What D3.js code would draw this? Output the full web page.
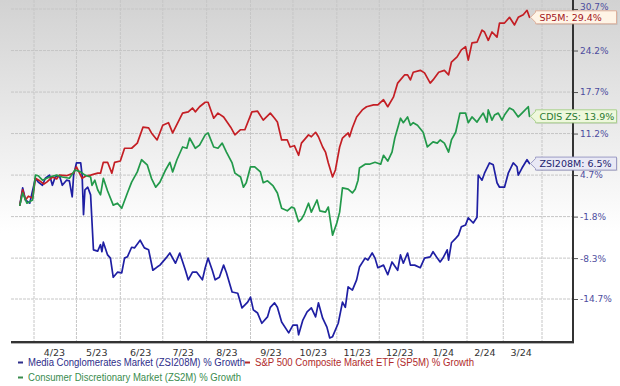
<!DOCTYPE html>
<html><head><meta charset="utf-8">
<script src="https://cdn.jsdelivr.net/npm/d3@7"></script>
<style>body{margin:0;background:#fff}svg{display:block}</style>
</head><body>
<svg id="chart" width="620" height="386"></svg>
<script>
// ---------- DATA ----------
const zsiDates = ["2023-03-22","2023-03-24","2023-03-26","2023-03-29","2023-04-02","2023-04-04","2023-04-07","2023-04-09","2023-04-12","2023-04-14","2023-04-16","2023-04-19","2023-04-21","2023-04-24","2023-04-26","2023-04-28","2023-04-29","2023-05-01","2023-05-04","2023-05-05","2023-05-06","2023-05-07","2023-05-09","2023-05-11","2023-05-13","2023-05-16","2023-05-18","2023-05-19","2023-05-20","2023-05-23","2023-05-25","2023-05-27","2023-05-30","2023-06-02","2023-06-04","2023-06-06","2023-06-09","2023-06-11","2023-06-15","2023-06-18","2023-06-21","2023-06-24","2023-06-27","2023-06-29","2023-07-04","2023-07-06","2023-07-10","2023-07-13","2023-07-17","2023-07-19","2023-07-22","2023-07-25","2023-07-29","2023-07-31","2023-08-02","2023-08-05","2023-08-07","2023-08-10","2023-08-13","2023-08-15","2023-08-19","2023-08-23","2023-08-26","2023-08-30","2023-09-01","2023-09-03","2023-09-06","2023-09-09","2023-09-13","2023-09-15","2023-09-18","2023-09-20","2023-09-23","2023-09-28","2023-10-01","2023-10-04","2023-10-05","2023-10-08","2023-10-11","2023-10-14","2023-10-17","2023-10-19","2023-10-22","2023-10-25","2023-10-27","2023-10-29","2023-11-02","2023-11-05","2023-11-07","2023-11-09","2023-11-12","2023-11-15","2023-11-17","2023-11-21","2023-11-23","2023-11-26","2023-11-28","2023-11-30","2023-12-04","2023-12-07","2023-12-10","2023-12-14","2023-12-16","2023-12-18","2023-12-21","2023-12-23","2023-12-26","2023-12-30","2024-01-02","2024-01-06","2024-01-08","2024-01-11","2024-01-13","2024-01-15","2024-01-18","2024-01-19","2024-01-21","2024-01-24","2024-01-26","2024-01-28","2024-01-31","2024-02-02","2024-02-06","2024-02-09","2024-02-10","2024-02-13","2024-02-15","2024-02-19","2024-02-22","2024-02-25","2024-02-27","2024-03-02","2024-03-05","2024-03-09","2024-03-12","2024-03-13","2024-03-16","2024-03-20","2024-03-22"];
const zsiValues = [0.0,2.7,0.8,0.3,4.2,3.6,3.1,4.2,4.7,3.1,4.4,4.6,3.1,3.9,3.8,1.3,4.7,6.6,6.6,4.7,-1.5,2.4,2.8,1.6,-7.0,-7.2,-6.2,-7.3,-5.8,-7.8,-8.3,-11.3,-10.5,-10.6,-8.3,-8.1,-6.6,-6.7,-5.5,-6.7,-7.0,-10.2,-9.7,-9.4,-8.1,-7.5,-9.1,-7.5,-10.2,-11.7,-10.5,-10.5,-11.7,-9.8,-8.3,-10.2,-11.7,-11.3,-9.4,-10.6,-13.6,-13.8,-16.1,-15.2,-14.4,-16.4,-16.9,-18.5,-17.5,-16.0,-15.3,-16.0,-18.3,-20.0,-18.8,-18.8,-20.3,-18.0,-16.7,-16.1,-17.5,-15.3,-17.7,-19.1,-20.8,-20.6,-18.5,-15.2,-16.0,-12.8,-13.3,-11.7,-9.7,-8.3,-8.6,-7.5,-8.3,-9.8,-9.4,-10.9,-8.9,-10.2,-7.8,-9.1,-7.5,-9.4,-9.4,-9.8,-8.3,-8.1,-7.3,-8.3,-8.9,-8.3,-7.0,-8.6,-5.9,-5.2,-4.7,-3.4,-3.1,-2.0,-2.8,-1.9,4.7,3.9,5.0,6.6,6.3,3.5,2.8,2.8,5.0,6.6,6.0,4.7,5.8,7.1,6.5];

const spDates = ["2023-03-22","2023-03-24","2023-03-26","2023-03-28","2023-03-31","2023-04-02","2023-04-05","2023-04-08","2023-04-10","2023-04-14","2023-04-17","2023-04-19","2023-04-24","2023-04-29","2023-05-01","2023-05-05","2023-05-08","2023-05-11","2023-05-16","2023-05-18","2023-05-20","2023-05-23","2023-05-26","2023-05-28","2023-06-01","2023-06-04","2023-06-09","2023-06-13","2023-06-17","2023-06-21","2023-06-23","2023-06-27","2023-07-01","2023-07-05","2023-07-08","2023-07-15","2023-07-19","2023-07-22","2023-07-24","2023-07-27","2023-07-31","2023-08-02","2023-08-06","2023-08-09","2023-08-13","2023-08-18","2023-08-21","2023-08-25","2023-08-28","2023-09-02","2023-09-06","2023-09-10","2023-09-15","2023-09-18","2023-09-20","2023-09-23","2023-09-27","2023-09-29","2023-10-02","2023-10-05","2023-10-07","2023-10-12","2023-10-14","2023-10-17","2023-10-19","2023-10-22","2023-10-24","2023-10-26","2023-10-29","2023-10-31","2023-11-03","2023-11-05","2023-11-09","2023-11-10","2023-11-12","2023-11-15","2023-11-19","2023-11-22","2023-11-27","2023-11-30","2023-12-04","2023-12-07","2023-12-11","2023-12-14","2023-12-19","2023-12-21","2023-12-23","2023-12-25","2023-12-30","2024-01-02","2024-01-06","2024-01-08","2024-01-12","2024-01-16","2024-01-19","2024-01-21","2024-01-25","2024-01-28","2024-01-31","2024-02-02","2024-02-05","2024-02-09","2024-02-13","2024-02-15","2024-02-18","2024-02-21","2024-02-25","2024-02-27","2024-03-02","2024-03-06","2024-03-10","2024-03-13","2024-03-17","2024-03-20","2024-03-22"];
const spValues = [0.0,2.4,0.8,1.4,1.1,4.2,3.8,3.3,3.6,4.4,4.1,4.7,4.6,5.0,6.0,4.2,4.6,4.7,5.0,5.0,6.7,6.7,5.0,6.7,6.9,8.9,8.9,9.7,12.2,12.1,11.3,10.2,12.5,12.9,11.3,14.4,14.6,15.2,14.6,15.4,16.1,16.1,13.6,14.4,13.8,12.2,11.0,11.8,11.8,14.6,14.7,13.3,14.4,13.6,13.0,10.2,10.2,9.1,9.3,7.8,9.7,11.0,10.7,11.4,10.7,9.1,8.3,6.6,4.4,5.5,9.1,10.5,11.3,10.7,12.1,13.8,14.9,15.4,15.7,15.7,16.5,15.4,16.9,19.1,20.4,20.4,19.6,20.8,21.1,20.7,19.1,19.6,20.8,21.1,20.4,22.4,23.2,24.3,24.8,22.7,25.4,25.5,27.4,27.1,25.8,27.1,26.3,28.5,28.5,29.4,28.2,29.4,29.8,30.5,29.4];

const cdisDates = ["2023-03-22","2023-03-24","2023-03-27","2023-03-31","2023-04-02","2023-04-04","2023-04-07","2023-04-12","2023-04-17","2023-04-21","2023-04-26","2023-04-30","2023-05-04","2023-05-07","2023-05-11","2023-05-12","2023-05-14","2023-05-16","2023-05-18","2023-05-20","2023-05-23","2023-05-27","2023-05-30","2023-06-02","2023-06-06","2023-06-09","2023-06-13","2023-06-16","2023-06-20","2023-06-23","2023-06-26","2023-06-29","2023-07-03","2023-07-06","2023-07-08","2023-07-11","2023-07-15","2023-07-18","2023-07-20","2023-07-24","2023-07-27","2023-07-31","2023-08-02","2023-08-06","2023-08-09","2023-08-12","2023-08-15","2023-08-19","2023-08-21","2023-08-25","2023-08-27","2023-08-29","2023-09-01","2023-09-04","2023-09-08","2023-09-10","2023-09-13","2023-09-17","2023-09-20","2023-09-23","2023-09-27","2023-09-30","2023-10-02","2023-10-05","2023-10-07","2023-10-09","2023-10-12","2023-10-14","2023-10-18","2023-10-20","2023-10-24","2023-10-26","2023-10-29","2023-11-01","2023-11-03","2023-11-05","2023-11-09","2023-11-12","2023-11-14","2023-11-16","2023-11-17","2023-11-21","2023-11-24","2023-11-28","2023-12-02","2023-12-04","2023-12-07","2023-12-10","2023-12-12","2023-12-16","2023-12-18","2023-12-21","2023-12-23","2023-12-25","2023-12-28","2024-01-01","2024-01-04","2024-01-08","2024-01-11","2024-01-13","2024-01-16","2024-01-19","2024-01-21","2024-01-24","2024-01-27","2024-01-31","2024-02-02","2024-02-05","2024-02-09","2024-02-11","2024-02-14","2024-02-17","2024-02-18","2024-02-21","2024-02-23","2024-02-26","2024-02-29","2024-03-02","2024-03-06","2024-03-09","2024-03-13","2024-03-17","2024-03-21","2024-03-22"];
const cdisValues = [0.0,1.9,0.3,0.8,4.7,4.6,3.9,4.4,4.7,4.4,4.2,5.5,5.2,4.7,4.4,3.1,3.9,2.4,1.6,4.2,2.2,0.0,0.3,-0.5,1.9,3.6,5.2,7.1,6.3,4.2,2.8,3.6,5.5,6.7,5.2,7.1,9.1,8.9,10.5,8.9,9.4,11.0,11.3,9.1,8.9,9.7,8.3,6.6,5.0,4.4,2.8,3.5,6.0,6.0,5.2,3.5,3.8,3.0,1.9,-0.5,-0.9,-0.3,-0.5,-2.6,-2.2,-1.4,0.3,-1.1,0.8,-0.9,-1.1,-0.3,-4.7,-2.8,-1.1,2.7,2.5,1.9,2.5,3.9,5.8,6.4,6.4,6.7,6.4,7.8,6.9,8.3,10.5,13.6,12.9,13.8,12.5,12.9,12.5,11.4,9.1,9.9,9.7,10.2,9.7,8.3,10.2,11.4,14.4,14.4,12.9,13.8,13.0,13.6,14.4,13.0,14.9,13.3,14.1,14.4,13.3,14.1,15.2,14.9,13.8,14.6,15.4,13.9];

const yTickValues = [30.7, 24.2, 17.7, 11.2, 4.7, -1.8, -8.3, -14.7];
const xTickLabels = ["4/23","5/23","6/23","7/23","8/23","9/23","10/23","11/23","12/23","1/24","2/24","3/24"];

const seriesNames = ["ZSI208M", "SP5M", "CDIS ZS"];
const legendLabels = [
  "Media Conglomerates Market (ZSI208M) % Growth",
  "S&P 500 Composite Market ETF (SP5M) % Growth",
  "Consumer Discretionary Market (ZS2M) % Growth"
];

// ---------- LAYOUT ----------
const parse = d3.timeParse("%Y-%m-%d");
const svg = d3.select("#chart");
const plotLeft = 11, plotRight = 573, plotBottom = 342;

const x = d3.scaleTime()
  .domain([new Date(2023,3,1), new Date(2024,1,1), new Date(2024,3,1)])
  .range([34, 467, 542]);
const y = d3.scaleLinear().domain([-14.7, 30.7]).range([299, 9]);

const series = [
  {name: seriesNames[0], dates: zsiDates, values: zsiValues, color: "#1f1fa3",
   fill: "#e9e9f5", stroke: "#9c9cc4", text: "#23236e"},
  {name: seriesNames[1], dates: spDates, values: spValues, color: "#c41e24",
   fill: "#fff4e6", stroke: "#ddb09c", text: "#a3141c"},
  {name: seriesNames[2], dates: cdisDates, values: cdisValues, color: "#22994a",
   fill: "#eef8dc", stroke: "#a9d08c", text: "#2a7a30"}
].map(s => ({...s, points: s.dates.map((d,i) => ({date: parse(d), value: s.values[i]}))}));

// background gradient
const defs = svg.append("defs");
const grad = defs.append("linearGradient").attr("id","bg").attr("x1",0).attr("y1",0).attr("x2",0).attr("y2",1);
grad.append("stop").attr("offset","0").attr("stop-color","#d2d2d2");
grad.append("stop").attr("offset","0.68").attr("stop-color","#ffffff");
svg.append("rect").attr("x",0).attr("y",0).attr("width",620).attr("height",plotBottom).attr("fill","url(#bg)");

// grid
const months = d3.timeMonth.range(new Date(2023,3,1), new Date(2024,3,2));
svg.append("g").selectAll("line").data(months).join("line")
  .attr("x1", d => x(d)).attr("x2", d => x(d)).attr("y1", 0).attr("y2", plotBottom)
  .attr("stroke", "#c6c6c6").attr("stroke-width", 1).attr("stroke-dasharray", "3,1");
svg.append("g").selectAll("line").data(yTickValues).join("line")
  .attr("x1", plotLeft).attr("x2", plotRight).attr("y1", d => y(d)).attr("y2", d => y(d))
  .attr("stroke", "#c6c6c6").attr("stroke-width", 1).attr("stroke-dasharray", "3,1");

// lines
const line = d3.line().x(d => x(d.date)).y(d => y(d.value)).curve(d3.curveLinear);
svg.append("g").selectAll("path").data(series).join("path")
  .attr("d", d => line(d.points)).attr("fill","none")
  .attr("stroke", d => d.color).attr("stroke-width", 1.7)
  .attr("stroke-linejoin","round").attr("stroke-linecap","round");

// bottom axis
const monthMids = d3.timeMonth.range(new Date(2023,3,1), new Date(2024,3,1))
  .map(d => new Date(d.getFullYear(), d.getMonth(), 15));
const xAxis = svg.append("g").attr("transform", `translate(0,${plotBottom})`)
  .call(d3.axisBottom(x).tickValues(monthMids).tickFormat((d,i) => xTickLabels[i]).tickSize(0).tickPadding(7));
xAxis.select(".domain").remove();
xAxis.selectAll("text").attr("fill","#333").style("font-family","'DejaVu Sans', Verdana, sans-serif").style("font-size","9.5px");

// right axis
const yAxis = svg.append("g").attr("transform", `translate(${plotRight},0)`)
  .call(d3.axisRight(y).tickValues(yTickValues).tickSize(5).tickPadding(2).tickFormat(d => d.toFixed(1) + "%"));
yAxis.select(".domain").remove();
yAxis.selectAll(".tick line").attr("stroke","#555");
yAxis.selectAll("text").attr("fill","#4d4d9e").style("font-family","'DejaVu Sans', Verdana, sans-serif").style("font-size","9px");
// top label sits at the very top edge, partly cut like the reference
yAxis.selectAll(".tick text").filter(d => d === yTickValues[0]).attr("dy","0.05em");

// axis lines
svg.append("line").attr("x1", plotLeft).attr("x2", plotRight + 1).attr("y1", plotBottom + 1.5).attr("y2", plotBottom + 1.5)
  .attr("stroke","#b0b0b0").attr("stroke-width",1);
svg.append("line").attr("x1", plotLeft).attr("x2", plotRight + 1).attr("y1", plotBottom).attr("y2", plotBottom)
  .attr("stroke","#333").attr("stroke-width",2);
svg.append("line").attr("x1", plotRight).attr("x2", plotRight).attr("y1", 0).attr("y2", plotBottom + 1)
  .attr("stroke","#333").attr("stroke-width",2);

// callout labels at line ends
const callG = svg.append("g");
series.forEach(s => {
  const last = s.points[s.points.length - 1];
  const tip = x(last.date) + 1, cy = y(last.value);
  const left = tip + 5, h = 13, w = 81;
  const g = callG.append("g");
  const path = `M${tip},${cy} L${left},${cy-5} L${left},${cy-h/2} L${left+w},${cy-h/2} L${left+w},${cy+h/2} L${left},${cy+h/2} L${left},${cy+5} Z`;
  g.append("path").attr("d", path).attr("fill", "#000").attr("opacity", 0.12).attr("transform","translate(1,1)");
  g.append("path").attr("d", path).attr("fill", s.fill).attr("stroke", s.stroke).attr("stroke-width", 1);
  g.append("text").attr("x", left + 4).attr("y", cy).attr("dy", "0.35em")
    .attr("fill", s.text).style("font-family","'DejaVu Sans', Verdana, sans-serif").style("font-size","9.5px")
    .text(`${s.name}: ${last.value.toFixed(1)}%`);
});

// legend
const legend = [
  {label: legendLabels[0], color: "#2d2d8a", x: 18, y: 366, len: 217},
  {label: legendLabels[1], color: "#b02a2a", x: 245, y: 366, len: 219},
  {label: legendLabels[2], color: "#3a8c4e", x: 18, y: 381, len: 213}
];
const lg = svg.append("g");
legend.forEach(l => {
  lg.append("rect").attr("x", l.x).attr("y", l.y - 4.5).attr("width", 5).attr("height", 2).attr("fill", l.color);
  lg.append("text").attr("x", l.x + 10).attr("y", l.y).attr("fill", l.color)
    .attr("textLength", l.len).attr("lengthAdjust", "spacingAndGlyphs")
    .style("font-family","'Liberation Sans Narrow','Arial Narrow','Liberation Sans',Arial,sans-serif").style("font-size","10px")
    .text(l.label);
});
</script>
</body></html>
